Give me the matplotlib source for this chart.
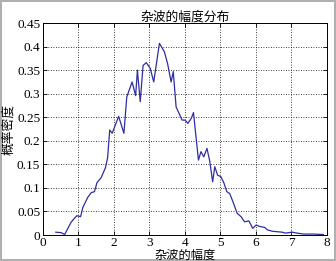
import matplotlib
matplotlib.use("Agg")
import matplotlib.pyplot as plt

# amplitude vs. probability density
amp = [0.36, 0.51, 0.61, 0.79, 0.95, 1.06, 1.12, 1.26, 1.36, 1.45, 1.52, 1.64, 1.76, 1.82,
       1.88, 1.95, 2.13, 2.28, 2.36, 2.51, 2.61, 2.66, 2.74, 2.82, 2.91, 3.02, 3.12, 3.28,
       3.42, 3.51, 3.61, 3.67, 3.75, 3.92, 4.01, 4.08, 4.18, 4.24, 4.31, 4.38, 4.45, 4.53,
       4.62, 4.70, 4.78, 4.84, 4.92, 5.01, 5.10, 5.18, 5.26, 5.35, 5.47, 5.58, 5.68, 5.80,
       5.91, 6.00, 6.12, 6.25, 6.32, 6.46, 6.60, 6.74, 6.83, 7.02, 7.16, 7.34, 7.62, 7.90]
dens = [0.006, 0.005, 0.001, 0.027, 0.041, 0.039, 0.058, 0.080, 0.090, 0.092, 0.111, 0.122,
        0.143, 0.164, 0.223, 0.216, 0.252, 0.216, 0.293, 0.325, 0.296, 0.350, 0.283, 0.360,
        0.366, 0.354, 0.325, 0.407, 0.389, 0.364, 0.325, 0.347, 0.272, 0.244, 0.244, 0.237,
        0.248, 0.260, 0.209, 0.159, 0.177, 0.166, 0.184, 0.156, 0.113, 0.145, 0.127, 0.124,
        0.110, 0.092, 0.088, 0.071, 0.046, 0.039, 0.028, 0.030, 0.014, 0.021, 0.018, 0.016,
        0.011, 0.008, 0.007, 0.006, 0.004, 0.006, 0.004, 0.002, 0.002, 0.001]

xticks = [0, 1, 2, 3, 4, 5, 6, 7, 8]
yticks = [0, 0.05, 0.1, 0.15, 0.2, 0.25, 0.3, 0.35, 0.4, 0.45]
ytick_labels = ["0", "0.05", "0.1", "0.15", "0.2", "0.25", "0.3", "0.35", "0.4", "0.45"]

cjk = ["Noto Sans CJK SC", "DejaVu Sans"]
num = ["Liberation Serif", "DejaVu Serif"]

fig = plt.figure(figsize=(3.36, 2.61), dpi=100)
fig.patch.set_edgecolor("#b0b0b0")
fig.patch.set_linewidth(1.5)
ax = fig.add_axes([0.128, 0.0996, 0.845, 0.812])

ax.plot(amp, dens, color="#2e2ea0", linewidth=0.9)

ax.set_xlim(0, 8)
ax.set_ylim(0, 0.45)
ax.set_xticks(xticks)
ax.set_yticks(yticks)
ax.set_xticklabels([str(t) for t in xticks], family=num, fontsize=9.5)
ax.set_yticklabels(ytick_labels, family=num, fontsize=9.5)
ax.tick_params(direction="in", length=3, width=0.6, top=True, right=True, pad=2)
ax.tick_params(axis="x", pad=1.5)
ax.grid(True, linestyle=(0, (1, 2)), color="black", linewidth=0.6)
for s in ax.spines.values():
    s.set_linewidth(0.7)

ax.set_title("杂波的幅度分布", family=cjk, fontsize=9.2, pad=2)
ax.set_xlabel("杂波的幅度", family=cjk, fontsize=8.8, labelpad=0)
ax.set_ylabel("概率密度", family=cjk, fontsize=9.2, labelpad=1)

fig.savefig("out.png", dpi=100)
